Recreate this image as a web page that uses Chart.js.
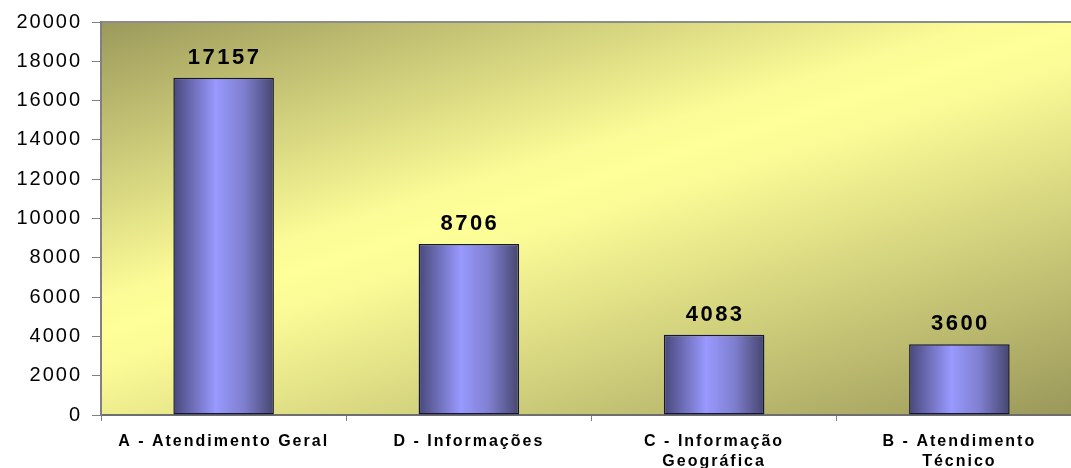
<!DOCTYPE html>
<html>
<head>
<meta charset="utf-8">
<script src="https://cdn.jsdelivr.net/npm/chart.js@4"></script>
<style>
  html, body { margin: 0; padding: 0; background: #ffffff; overflow: hidden; }
  #wrap { width: 1071px; height: 468px; overflow: hidden; }
</style>
</head>
<body>
<!-- the plot area runs a little past the right edge of the picture -->
<div id="wrap"><canvas id="barChart" width="1082" height="468"></canvas></div>
<script>
// values
const categories = [
    'A - Atendimento Geral',
    'D - Informações',
    ['C - Informação', 'Geográfica'],
    ['B - Atendimento', 'Técnico']
];
const atendimentos = [17157, 8706, 4083, 3600];
const yTicks = [0, 2000, 4000, 6000, 8000, 10000, 12000, 14000, 16000, 18000, 20000];

const FONT = '"Liberation Sans", Arial, sans-serif';

// olive / yellow diagonal background of the plot area
const plotBackground = {
    id: 'plotBackground',
    beforeDraw(chart) {
        const a = chart.chartArea;
        const c = chart.ctx;
        const w = a.right - a.left;
        const h = a.bottom - a.top;
        // light ridge runs from lower left to upper right, dark in the two other corners
        const nx = 0.298, ny = 0.954;
        const px = a.left + w * 0.49, py = a.top + h * 0.405;
        const g = c.createLinearGradient(px - nx * 300, py - ny * 300, px + nx * 370, py + ny * 370);
        g.addColorStop(0, '#9a985a');
        g.addColorStop(0.40, '#fbfb97');
        g.addColorStop(0.45, '#ffff99');
        g.addColorStop(0.50, '#fbfb97');
        g.addColorStop(1, '#9a985a');
        c.save();
        c.fillStyle = g;
        c.fillRect(a.left, a.top, w, h);
        c.strokeStyle = '#8c8c8c';
        c.lineWidth = 2;
        c.beginPath();
        c.moveTo(a.left, a.top);
        c.lineTo(a.right, a.top);
        c.stroke();
        c.restore();
        // axis labels in the picture are spaced out
        c.letterSpacing = '2px';
    }
};

// value above each bar
const valueLabels = {
    id: 'valueLabels',
    afterDatasetsDraw(chart) {
        const c = chart.ctx;
        const meta = chart.getDatasetMeta(0);
        c.save();
        c.font = 'bold 22px ' + FONT;
        c.letterSpacing = '2.5px';
        c.fillStyle = '#000000';
        c.textAlign = 'center';
        c.textBaseline = 'alphabetic';
        meta.data.forEach(function(bar, i) {
            c.fillText(String(atendimentos[i]), bar.x + 1, bar.y - 14);
        });
        c.restore();
    }
};

function barGradient(context) {
    const chart = context.chart;
    const area = chart.chartArea;
    if (!area) return '#9999ff';
    const xs = chart.scales.x;
    const cx = xs.getPixelForValue(context.dataIndex);
    const w = (area.right - area.left) / categories.length * 0.41;
    const g = chart.ctx.createLinearGradient(cx - w / 2, 0, cx + w / 2, 0);
    g.addColorStop(0, '#48487a');
    g.addColorStop(0.42, '#9999ff');
    g.addColorStop(0.7, '#7f7fd0');
    g.addColorStop(1, '#46466f');
    return g;
}

document.addEventListener('DOMContentLoaded', function() {
    const ctx = document.getElementById('barChart').getContext('2d');
    new Chart(ctx, {
        type: 'bar',
        data: {
            labels: categories,
            datasets: [{
                label: 'Atendimentos',
                data: atendimentos,
                backgroundColor: barGradient,
                borderColor: '#16163a',
                borderWidth: 1.5,
                borderSkipped: false,
                categoryPercentage: 1,
                barPercentage: 0.41
            }]
        },
        options: {
            responsive: false,
            animation: false,
            layout: { padding: { top: 20, right: 0, left: 0, bottom: 0 } },
            plugins: {
                legend: { display: false },
                tooltip: { enabled: false }
            },
            scales: {
                x: {
                    offset: true,
                    grid: {
                        offset: true,
                        drawOnChartArea: false,
                        drawTicks: true,
                        tickLength: 6,
                        color: '#808080'
                    },
                    border: { color: '#6e6e6e', width: 2 },
                    ticks: {
                        color: '#000000',
                        font: { family: FONT, size: 16, weight: 'bold', lineHeight: 1.25 },
                        maxRotation: 0,
                        autoSkip: false,
                        padding: 11
                    },
                    afterFit(scale) { scale.height = 53; }
                },
                y: {
                    min: 0,
                    max: 20000,
                    afterBuildTicks(scale) {
                        scale.ticks = yTicks.map(function(v) { return { value: v }; });
                    },
                    grid: {
                        drawOnChartArea: false,
                        drawTicks: true,
                        tickLength: 9,
                        color: '#808080'
                    },
                    border: { color: '#808080', width: 2 },
                    ticks: {
                        color: '#000000',
                        font: { family: FONT, size: 20 },
                        padding: 10,
                        callback: function(value) { return String(value); }
                    },
                    afterFit(scale) { scale.width = 101; }
                }
            }
        },
        plugins: [plotBackground, valueLabels]
    });
});
</script>
</body>
</html>
